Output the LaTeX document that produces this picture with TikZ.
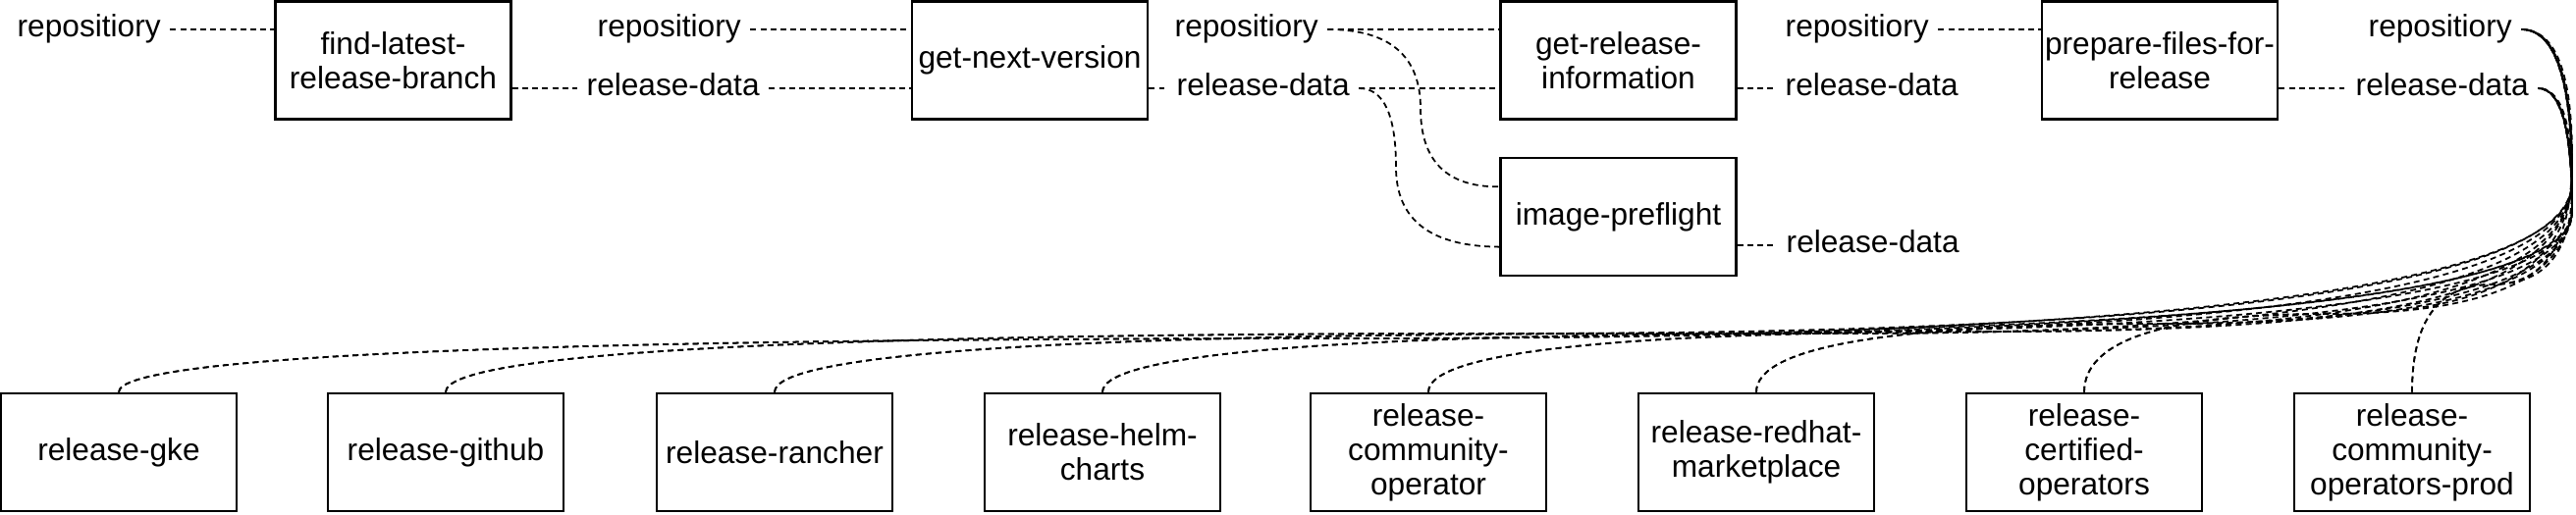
\documentclass[tikz,border=0pt]{standalone}
\usepackage{fontspec}
\setmainfont{Liberation Sans}
\usetikzlibrary{calc}
\begin{document}
\begin{tikzpicture}[x=0.01cm, y=-0.01cm,
  box/.style={draw, line width=0.7pt, minimum width=2.4cm, minimum height=1.2cm, inner sep=0pt, align=center, font=\fontsize{9pt}{10pt}\selectfont},
  lbl/.style={inner xsep=0.09cm, inner ysep=0pt, text height=6.44pt, text depth=1.9pt, anchor=west, font=\fontsize{9pt}{10pt}\selectfont},
  conn/.style={line width=0.5pt, dash pattern=on 1.7pt off 1.2pt}]
\fill[white] (0,0) rectangle (2624,524);
\useasboundingbox (0,0) rectangle (2624,524);

% top row boxes
\node[box] (fl) at (400.5,61.5) {find-latest-\\release-branch};
\node[box] (gn) at (1049,61.5) {get-next-version};
\node[box] (gr) at (1648.5,61.5) {get-release-\\information};
\node[box] (ip) at (1648.5,221) {image-preflight};
\node[box] (pf) at (2200,61.5) {prepare-files-for-\\release};

% bottom row boxes
\node[box] (b1) at (121,461) {release-gke};
\node[box] (b2) at (454,461) {release-github};
\node[box] (b3) at (789,461) {release-rancher};
\node[box] (b4) at (1123,461) {release-helm-\\charts};
\node[box] (b5) at (1455,461) {release-\\community-\\operator};
\node[box] (b6) at (1789,461) {release-redhat-\\marketplace};
\node[box] (b7) at (2123,461) {release-\\certified-\\operators};
\node[box] (b8) at (2457,461) {release-\\community-\\operators-prod};

% labels
\node[lbl] (rep0) at (8,30) {repositiory};
\node[lbl] (rep1) at (599,30) {repositiory};
\node[lbl] (rd1) at (588,90) {release-data};
\node[lbl] (rep2) at (1187,30) {repositiory};
\node[lbl] (rd2) at (1189,90) {release-data};
\node[lbl] (rep3) at (1809,30) {repositiory};
\node[lbl] (rd3) at (1809,90) {release-data};
\node[lbl] (rd5) at (1810,250) {release-data};
\node[lbl] (rep4) at (2403,30) {repositiory};
\node[lbl] (rd4) at (2390,90) {release-data};

% straight connectors
\draw[conn] (rep0.east) -- (rep0.east -| fl.west);
\draw[conn] (fl.east |- rd1.west) -- (rd1.west);
\draw[conn] (rd1.east) -- (rd1.east -| gn.west);
\draw[conn] (rep1.east) -- (rep1.east -| gn.west);
\draw[conn] (gn.east |- rd2.west) -- (rd2.west);
\draw[conn] (rep2.east) -- (rep2.east -| gr.west);
\draw[conn] (rd2.east) -- (rd2.east -| gr.west);
\draw[conn] (gr.east |- rd3.west) -- (rd3.west);
\draw[conn] (rep3.east) -- (rep3.east -| pf.west);
\draw[conn] (ip.east |- rd5.west) -- (rd5.west);
\draw[conn] (pf.east |- rd4.west) -- (rd4.west);

% curved connectors to image-preflight
\coordinate (ipA) at ($(ip.north west)!0.25!(ip.south west)$);
\coordinate (ipB) at ($(ip.north west)!0.75!(ip.south west)$);
\draw[conn] (rep2.east) .. controls ($(rep2.east)!0.6667!(1447,30)$) and (1447,57) .. (1447,110.5)
  .. controls (1447,164) and ($(ipA)!0.6667!(1447,191)$) .. (ipA);
\draw[conn] (rd2.east) .. controls ($(rd2.east)!0.6667!(1422,90)$) and (1422,117) .. (1422,170.5)
  .. controls (1422,224) and ($(ipB)!0.6667!(1422,251)$) .. (ipB);

% curved connectors to the release jobs (drawn from the job end so shared parts keep one dash phase)
\coordinate (xr) at (2620,0);
\foreach \b/\Y in {b1/345,b2/340,b3/340,b4/340,b5/338,b6/330,b7/320,b8/290}{
  \foreach \s in {rep4,rd4}{
    \coordinate (P1) at (\s.east -| xr);
    \coordinate (P2) at (2620,\Y);
    \coordinate (M1) at ($(P1)!0.5!(P2)$);
    \coordinate (P3) at (\b.north |- P2);
    \coordinate (M2) at ($(P2)!0.5!(P3)$);
    \draw[conn] (\b.north) .. controls ($(\b.north)!0.6667!(P3)$) and ($(M2)!0.6667!(P3)$) .. (M2)
      .. controls ($(M2)!0.6667!(P2)$) and ($(M1)!0.6667!(P2)$) .. (M1)
      .. controls ($(M1)!0.6667!(P1)$) and ($(\s.east)!0.6667!(P1)$) .. (\s.east);
  }
}
\end{tikzpicture}
\end{document}
